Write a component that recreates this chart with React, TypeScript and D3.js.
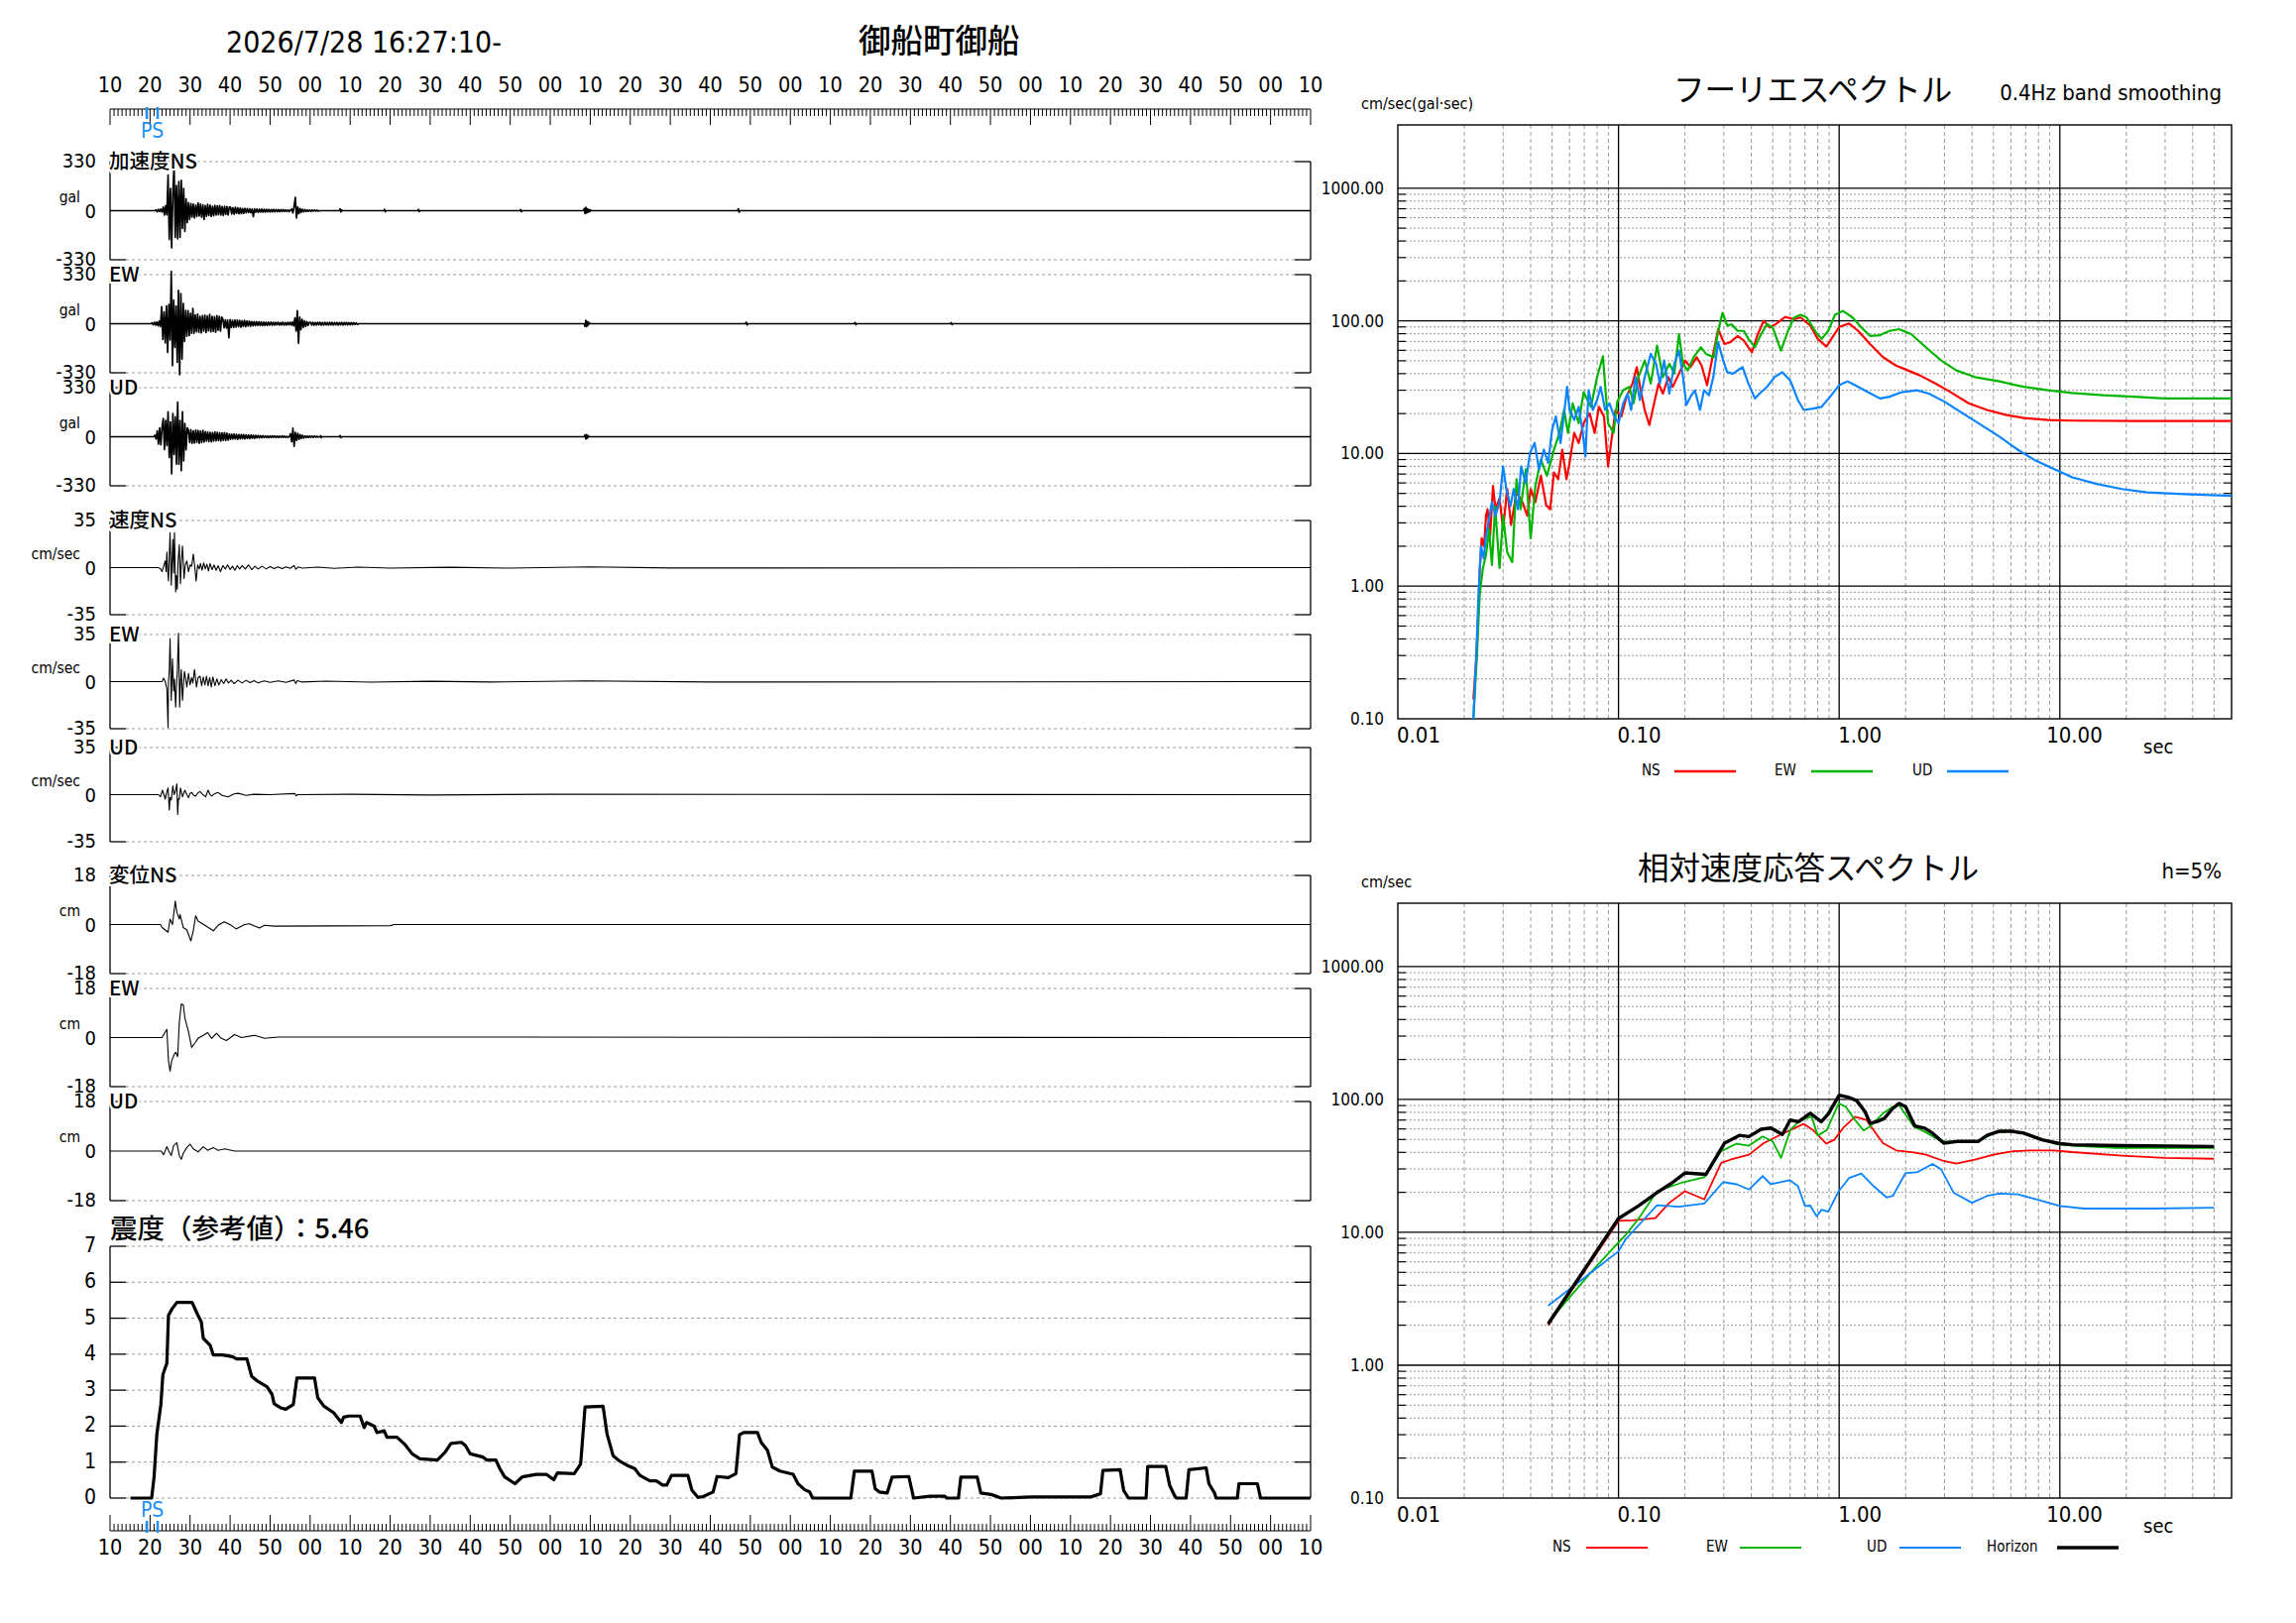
import React from 'react';
import * as d3 from 'd3';

const W = 2316;
const H = 1637;
const LATIN = "'DejaVu Sans Condensed', 'DejaVu Sans', sans-serif";
const CJK = "'Noto Sans CJK JP', 'Noto Sans CJK SC', sans-serif";
const PS_BLUE = '#1e8ff5';
const GRID = '#9a9a9a';

// ---- header ----
const headerDate = '2026/7/28 16:27:10-';
const stationName = '御船町御船';

// ---- time axis (seconds) ----
const timeStart = 10;
const timeEnd = 310;
const timeTicks = d3.range(10, 311, 10);
const pTime = 19.2;
const sTime = 21.9;

// ---- waveform panels ----
const panelNames = ['加速度NS', 'EW', 'UD', '速度NS', 'EW', 'UD', '変位NS', 'EW', 'UD'];
const panelMax = [330, 330, 330, 35, 35, 35, 18, 18, 18];
const panelUnits = ['gal', 'gal', 'gal', 'cm/sec', 'cm/sec', 'cm/sec', 'cm', 'cm', 'cm'];

// acceleration (gal): samples every 0.3 s from the start time, plus later small bursts
const accStep = 0.3;
const accNSStart = 21.5;
const accNS = [
  5, -8, 9, -6, 10, -9, 25, -30, 35, -28,
  240, -194, 150, -250, 120, 308, -180, 170, -190, 196, -180, 205, -120, 150, -140, 80, -80, 55, -60,
  48, -42, 45, -50, 38, -40, 52, -36, 44, -45, 40, -60, 35, -38, 42, -33, 38, -40, 30, -35, 36, -30, 33, -28, 35, -30, 28, -32, 30, -25, 27, -29, 24,
  25, -22, 20, -24, 22, -18, 20, -21, 18, -20, 15, -18, 16, -14, 15, -13, 12, -14, 11, -40,
  12, -10, 11, -12, 10, -9, 11, -9, 9, -10, 9, -8, 9, -9, 8, -8, 9, -7, 8, -7, 8, -7, 7, -6, 7, -6, 6, -6, 5, -6, 5,
  10, -15, 30, 89, -49, 25, -20, 15, -12, 10, -8, 7, -6,
  5, -4, 4, -5, 4, -3, 4, -3, 3, -3,
];
const accNSEvents: [number, number][] = [
  [62.3, 0], [67.3, 0], [67.5, 12], [67.7, -8], [67.9, 4], [68.1, 0], [78.4, 0], [78.6, 9], [78.8, -7], [79.0, 0],
  [86.9, 0], [87.1, 8], [87.3, -6], [87.5, 0], [112.4, 0], [112.6, 7], [112.8, -6], [113.0, 0],
  [128.3, 0], [128.5, 14], [128.7, -20], [128.9, 22], [129.1, -16], [129.3, 13], [129.5, -10], [129.7, 8], [129.9, -6], [130.1, 4], [130.3, 0],
  [166.8, 0], [167.0, 13], [167.2, -10], [167.4, 0],
];
const accEWStart = 20.5;
const accEW = [
  6, -8, 10, -9, 12, -15, 18, -20,
  114, -106, 80, -130, 120, -194, 130, -110, 352, -282, 160, -160, 120, -260, 224, -343, 202, -238, 136, -120, 90, -85, 88, -80, 70, -65, 103, -65,
  60, -55, 65, -58, 50, -62, 55, -50, 58, -60, 52, -48, 62, -55, 50, -52, 48, -58, 55, -45, 50, -50, 45,
  30, -28, 26, -30, 25, -95, 28, -24, 22, -26, 25, -22, 24, -20, 22, -24, 20, -18, 22, -20, 18, -16, 18, -17, 15, -14, 15, -13, 14, -12,
  13, -12, 12, -13, 11, -12, 10, -11, 10, -9, 11, -10, 9, -10, 9, -8, 10, -9, 8, -9, 10, -9, 8, -9, 9, -8, 10, -9, 12, -15,
  40, -50, 88, -132, 45, -40, 30, -25, 20, -18, 14, -12, 10,
  10, -9, 9, -10, 8, -9, 9, -8, 10, -10, 8, -9, 9, -8, 8, -9, 10, -8, 9, -9, 8, -8, 9, -10, 8, -8, 9, -9, 8, -7, 9, -8, 7, -8, 8, -7, 7, -6, 6, -6,
];
const accEWEvents: [number, number][] = [
  [72.1, 0], [128.5, 0], [128.7, -18], [128.9, 22], [129.1, -20], [129.3, 15], [129.5, -10], [129.7, 8], [129.9, 0],
  [168.8, 0], [169.0, 10], [169.2, -8], [169.4, 0], [196.0, 0], [196.2, 8], [196.4, -7], [196.6, 0],
  [220.0, 0], [220.2, 7], [220.4, -6], [220.6, 0],
];
const accUDStart = 21.2;
const accUD = [
  10, -15, 40, -50, 60, -55, 65,
  123, -86, 110, -60, 167, -140, 100, -250, 156, -120, 134, -185, 233, -185, 110, -229, 167, -163, 90, -88, 60,
  44, -40, 48, -44, 40, -42, 45, -38, 42, -44, 38, -40, 42, -36,
  35, -30, 33, -32, 30, -34, 28, -30, 32, -28, 30, -26, 28, -30, 26, -24, 28, -25, 24, -22,
  18, -17, 17, -16, 18, -15, 16, -17, 15, -14, 16, -13, 14, -15, 13, -12, 12, -13, 11, -10, 10, -11, 9, -8, 9, -8, 7, -7, 8, -6,
  6, -6, 5, -6, 5, -5, 6, -4, 5, -5, 4, -5, 4, -4, 5, -4, 4, -4, 3, -4, 3,
  20, -35, 57, -64, 30, -25, 22, -18, 15, -12, 10, -9,
  6, -6, 5, -5, 5, -4, 4, -4, 4, -3, 3, -3,
];
const accUDEvents: [number, number][] = [
  [62.3, 0], [62.5, 0], [62.6, 7], [62.8, -6], [63.0, 0], [67.3, 0], [67.5, 8], [67.7, -6], [67.9, 0],
  [128.5, 0], [128.7, 12], [128.9, -15], [129.1, 14], [129.3, -10], [129.5, 7], [129.7, 0],
];

// velocity (cm/sec) as [time, value]
const velNS: [number, number][] = [
  [22, 0], [22.6, -0.8], [23.0, -3], [23.4, 1], [23.8, 5], [24.0, -3], [24.2, 11.5], [24.4, -2], [24.6, -10], [24.8, 8],
  [25.0, 26], [25.3, -13], [25.5, 5], [25.7, 21], [25.9, -4], [26.1, 26], [26.4, -18], [26.6, -6], [26.8, -16], [27.0, 4],
  [27.3, 17], [27.6, -12], [27.8, 3], [28.1, 16], [28.5, -8], [28.8, 2], [29.2, 5], [29.6, -3], [30.0, 2], [30.4, 1],
  [30.8, 10], [31.2, 0], [31.5, -10], [31.9, 2], [32.3, -1], [32.6, 3], [33.0, -2], [33.4, 3.5], [33.8, -1], [34.2, 2.5],
  [34.6, -2.5], [35.0, 3], [35.5, -1.5], [36.0, 2], [36.5, -2], [37.0, 1.5], [37.6, -3], [38.2, 1.5], [38.8, -1], [39.4, 2],
  [40.0, -1.5], [40.6, 1], [41.2, -2], [41.8, 1.5], [42.4, -1], [43.0, 1.5], [43.8, -1], [44.6, 2], [45.4, -1.5], [46.2, 1],
  [47.0, -1], [48.0, 1], [49.0, -1], [50.0, 0.8], [51.0, -0.8], [52.0, 0.5], [53.0, -0.8], [54.0, 0.6], [55.0, -0.5], [56.0, 1.5],
  [56.4, -1.2], [57.0, 0.5], [58.0, -0.4], [62, 0.4], [66, -0.5], [72, 0.4], [80, -0.4], [95, 0.3], [110, -0.4], [130, 0.5], [150, -0.3],
];
const velEW: [number, number][] = [
  [23.0, 0], [23.4, 2.6], [23.8, 0], [24.2, -5], [24.5, -34], [24.6, 0], [24.8, 8], [25.0, 32], [25.3, -14], [25.6, 17],
  [25.9, -7], [26.1, 2], [26.4, -19], [26.6, -3], [26.8, 6], [27.1, 36], [27.4, -19], [27.6, 0], [27.8, 9], [28.1, -14],
  [28.4, 0], [28.6, 7.6], [29.2, -4], [29.6, 6], [30.0, -2.3], [30.4, 3], [30.7, -1], [31.1, 9], [31.6, -4], [32.0, 3],
  [32.5, 4], [32.9, -3], [33.3, 3.5], [33.7, -2.5], [34.1, 4], [34.5, -3], [34.9, 3], [35.3, -4], [35.7, 3.5], [36.2, -3],
  [36.7, 2], [37.2, -2.5], [37.8, 1.5], [38.4, -1.5], [39.0, 2], [39.6, -1], [40.3, 1], [41.0, -1.5], [42.0, 1], [43.0, -1],
  [44.0, 1], [45.0, -0.8], [46.0, 0.8], [47.0, -1], [48.5, 0.6], [50.0, -0.6], [52.0, 0.5], [54.0, -0.5], [56.0, 1.2], [56.4, -1.5],
  [56.8, 0.8], [58.0, -0.3], [64, 0.4], [75, -0.4], [90, 0.3], [105, -0.3], [129, 0.6], [160, -0.3],
];
const velUD: [number, number][] = [
  [22.1, 0], [22.6, -1.6], [23.1, 3.3], [23.8, -3.3], [24.1, 1], [24.5, 5], [24.8, -11.4], [25.0, -2], [25.3, -4], [25.7, 6.5],
  [26.0, 0], [26.3, 2], [26.7, 8], [26.9, -14.7], [27.1, -3], [27.3, -3.3], [27.6, 5], [28.1, -1.6], [28.7, 3.3], [29.2, 0],
  [29.6, -2.3], [30.0, 1], [30.4, 1.6], [30.9, -0.5], [31.4, -1], [32.0, 1.5], [32.5, 2.3], [33.2, 0], [33.9, -1.6], [34.5, 3.3],
  [35.0, 0], [35.4, -1], [36.2, 0.8], [37.0, 1.6], [38.0, -0.5], [39.5, -1.6], [41.0, 0.5], [42.0, 1], [44.0, -0.5], [46.0, 0.3],
  [50.0, 0], [56.2, 0.8], [56.5, -0.8], [57.0, 0], [70, 0.3], [90, -0.3], [120, 0.3],
];

// displacement (cm) as [time, value]
const dispNS: [number, number][] = [
  [22.6, 0], [23.0, -1.1], [24.5, -2.8], [25.0, 2], [25.6, 0], [26.3, 8.6], [26.7, 4.5], [27.3, 2], [27.5, 3.7], [28.3, -1.1],
  [29.2, -2], [30.2, -6], [30.8, -2.3], [31.4, 3.2], [32.0, 1.3], [33.7, -0.3], [35.8, -2.3], [37.0, -0.3], [38.5, 1], [40.3, -0.3],
  [41.5, -1.6], [43.6, 0], [44.8, 0.3], [47.3, -1.3], [48.6, -0.3], [51.0, -0.6], [80.0, -0.4], [81.0, 0],
];
const dispEW: [number, number][] = [
  [23.0, 0], [23.8, 2.1], [24.2, 3], [24.6, -8.5], [25.0, -12.3], [25.4, -8.5], [26.1, -6], [26.4, -5.4], [26.9, -7], [27.3, 5.4],
  [27.8, 12.3], [28.3, 12], [28.7, 7.2], [29.6, 2.1], [30.4, -3.6], [31.2, -2], [32.0, -0.3], [33.3, 0.8], [34.4, 1.8], [35.4, -0.3],
  [36.6, 1.6], [37.8, -0.3], [39.1, -1.1], [41.1, 1.1], [42.8, 0], [46.1, 0.8], [48.6, -0.3], [52.0, 0.2],
];
const dispUD: [number, number][] = [
  [22.8, 0], [23.4, -1.3], [24.2, 1.6], [24.6, 0.3], [25.3, -1.6], [25.9, 2], [26.7, 3], [27.3, -1.6], [27.8, -3], [28.3, -0.8],
  [29.2, 1.3], [30.0, 2.5], [30.8, 0.8], [32.0, -0.3], [33.3, 1.6], [34.4, 0.3], [35.8, 1.3], [37.0, 0.3], [38.7, 0.8], [41.1, 0],
];

// ---- seismic intensity (reference value) ----
const intensityLabel = '震度（参考値）：5.46';
const intensityTicks = [0, 1, 2, 3, 4, 5, 6, 7];
const intensity: [number, number][] = [
  [15.1, 0], [20.4, 0], [21.0, 0.59], [21.7, 1.78], [22.7, 2.6], [23.2, 3.43], [24.2, 3.75], [24.6, 5.08], [25.5, 5.26], [26.7, 5.44],
  [30.5, 5.44], [31.8, 5.12], [32.8, 4.9], [33.3, 4.44], [35, 4.25], [35.8, 3.98], [38.1, 3.98], [40.6, 3.93], [41.6, 3.87], [44.2, 3.87],
  [45.4, 3.38], [47, 3.24], [49.2, 3.1], [50.5, 2.88], [51, 2.62], [52.6, 2.51], [53.9, 2.47], [55.8, 2.6], [56.7, 3.34], [61.1, 3.34],
  [61.9, 2.79], [63.4, 2.56], [65.9, 2.37], [67.8, 2.1], [68.4, 2.25], [69.7, 2.28], [72.5, 2.28], [73.5, 1.96], [74.1, 2.1], [76, 2.0],
  [76.7, 1.82], [78.5, 1.87], [79.2, 1.69], [81.7, 1.69], [83.6, 1.5], [85.5, 1.23], [87.4, 1.09], [91.8, 1.06], [93.7, 1.27], [95.2, 1.52],
  [97.8, 1.55], [98.8, 1.46], [100, 1.23], [103.2, 1.14], [104.1, 1.06], [106.4, 1.06], [107.4, 0.82], [108.6, 0.59], [111.2, 0.4], [113, 0.59],
  [116.5, 0.66], [119, 0.66], [120.9, 0.51], [121.8, 0.7], [126, 0.68], [127.6, 0.95], [128.7, 2.53], [133.2, 2.55], [134.2, 1.78], [135.7, 1.18],
  [137.3, 1.03], [139.2, 0.91], [141.1, 0.82], [142.4, 0.63], [144.9, 0.48], [146.5, 0.48], [148.1, 0.36], [149.1, 0.36], [150.3, 0.63], [154.4, 0.63],
  [155.4, 0.22], [156.9, 0.02], [158.2, 0.04], [160.7, 0.17], [161.7, 0.6], [164.5, 0.57], [166.4, 0.68], [167.3, 1.76], [168.3, 1.82], [171.8, 1.82],
  [172.7, 1.55], [174.3, 1.32], [175.5, 0.86], [177.4, 0.75], [180.7, 0.66], [181.9, 0.4], [183.6, 0.23], [184.8, 0.17], [185.6, 0], [195.1, 0],
  [196.0, 0.75], [200.4, 0.75], [201.2, 0.26], [202.2, 0.17], [204.2, 0.14], [205.4, 0.58], [209.6, 0.6], [210.8, 0], [214.9, 0.05], [218.6, 0.05],
  [219.1, 0], [222, 0], [222.6, 0.58], [226.7, 0.58], [227.6, 0.14], [230.2, 0.1], [232.7, 0], [240.1, 0.03], [255, 0.03], [257.5, 0.12],
  [258.1, 0.77], [262.4, 0.79], [263.3, 0.21], [264.5, 0], [268.9, 0], [269.3, 0.88], [273.8, 0.88], [274.8, 0.35], [276, 0.07], [276.5, 0],
  [278.9, 0], [279.6, 0.79], [283.9, 0.84], [284.6, 0.4], [286, 0.14], [286.4, 0], [291.7, 0], [292.1, 0.4], [296.7, 0.4], [297.5, 0], [310, 0],
];

// ---- Fourier spectrum [period sec, cm/sec] ----
const fourierNS: [number, number][] = [
  [0.022, 0.14], [0.0227, 0.29], [0.0232, 0.69], [0.0235, 1.3], [0.024, 2.3], [0.0246, 2.0], [0.0251, 3.4], [0.0255, 3.8], [0.0262, 2.4], [0.027, 5.7],
  [0.0277, 3.8], [0.0289, 4.6], [0.03, 2.7], [0.0313, 5.4], [0.0326, 2.9], [0.0345, 5.1], [0.0367, 4.3], [0.0386, 3.4], [0.04, 5.4], [0.042, 4.3],
  [0.0445, 6.8], [0.047, 4.1], [0.049, 3.8], [0.051, 7.2], [0.0533, 6.4], [0.0556, 10.7], [0.0581, 6.4], [0.06, 8.5], [0.063, 14.3], [0.066, 12.0],
  [0.0695, 16.9], [0.074, 20.1], [0.078, 14.3], [0.0815, 22.5], [0.086, 19], [0.0897, 8.0], [0.093, 12.7], [0.097, 21.3], [0.103, 19], [0.1087, 26.8],
  [0.1158, 33.7], [0.121, 44.8], [0.126, 30], [0.1315, 21.3], [0.138, 16.4], [0.145, 23.9], [0.152, 33.7], [0.159, 28.3], [0.168, 37.7], [0.176, 31.8],
  [0.188, 40], [0.2, 50.3], [0.212, 44.8], [0.226, 53.2], [0.238, 46], [0.252, 32.7], [0.265, 50.3], [0.283, 86.6], [0.302, 66.9], [0.321, 69],
  [0.347, 77], [0.37, 70.9], [0.402, 57.8], [0.428, 79.5], [0.455, 100], [0.485, 89.2], [0.516, 94.5], [0.57, 107], [0.625, 103], [0.669, 106],
  [0.74, 92], [0.8, 73], [0.875, 64], [0.94, 77], [1.0, 90], [1.11, 95.5], [1.22, 84], [1.38, 66.9], [1.58, 53.2], [1.81, 46],
  [2.05, 42.3], [2.32, 38.8], [2.73, 33.7], [3.19, 29.1], [3.86, 23.9], [4.68, 21.3], [5.67, 19.6], [6.86, 18.5], [8.86, 17.9], [11.4, 17.7],
  [21.6, 17.6], [60, 17.6],
];
const fourierEW: [number, number][] = [
  [0.022, 0.1], [0.0228, 0.29], [0.0235, 0.86], [0.0243, 1.37], [0.0251, 1.72], [0.0259, 2.7], [0.0267, 1.44], [0.0276, 4.0], [0.0289, 1.37], [0.03, 3.4],
  [0.0313, 1.8], [0.033, 1.52], [0.0345, 6.4], [0.036, 3.8], [0.038, 7.6], [0.04, 2.3], [0.042, 5.7], [0.0445, 9.0], [0.0474, 6.8], [0.051, 10.7],
  [0.054, 14.3], [0.0567, 21.3], [0.059, 14.3], [0.062, 23.9], [0.066, 16.9], [0.0695, 29], [0.075, 22.5], [0.08, 37.7], [0.085, 54], [0.0897, 16.9],
  [0.095, 14.3], [0.0987, 24.5], [0.105, 30], [0.112, 31.8], [0.117, 23.9], [0.123, 37.7], [0.1315, 50.3], [0.14, 33.7], [0.1495, 65], [0.159, 37.7],
  [0.17, 47.4], [0.179, 40], [0.188, 79.5], [0.196, 47.4], [0.206, 42.3], [0.219, 53.2], [0.236, 63.2], [0.249, 56.4], [0.27, 53.2], [0.283, 84],
  [0.296, 115], [0.311, 92], [0.325, 94.5], [0.347, 84], [0.37, 84], [0.388, 73], [0.415, 63.2], [0.443, 79.5], [0.471, 94.5], [0.5, 89.2],
  [0.545, 59.7], [0.586, 84], [0.625, 106], [0.669, 111], [0.712, 106], [0.785, 82], [0.833, 73], [0.892, 84], [0.957, 111], [1.04, 118.8],
  [1.15, 106], [1.26, 89.2], [1.38, 77], [1.53, 78], [1.69, 84], [1.87, 86.6], [2.12, 79.5], [2.47, 63.2], [2.9, 50.3], [3.4, 42.3],
  [4.12, 37.7], [5.32, 35], [6.86, 31.8], [8.86, 30], [11.4, 28.6], [15.7, 27.5], [21.6, 26.8], [29.8, 26], [60, 26],
];
const fourierUD: [number, number][] = [
  [0.022, 0.1], [0.0224, 0.19], [0.0228, 0.39], [0.0232, 0.86], [0.0238, 2.0], [0.0245, 1.62], [0.0251, 2.4], [0.0259, 3.2], [0.0267, 4.3], [0.0277, 3.4],
  [0.0289, 4.3], [0.03, 8.0], [0.031, 5.4], [0.0324, 4.0], [0.0335, 5.4], [0.035, 3.8], [0.0362, 8.0], [0.038, 6.0], [0.0397, 10.1], [0.0417, 12],
  [0.0436, 7.6], [0.0459, 10.7], [0.048, 8.5], [0.05, 15.1], [0.052, 19], [0.0546, 12], [0.0567, 20.1], [0.0585, 31.8], [0.06, 21.3], [0.063, 17.9],
  [0.066, 22.5], [0.0686, 15.1], [0.0708, 9.5], [0.0732, 30], [0.0765, 21.3], [0.08, 25.3], [0.083, 31.8], [0.087, 21.3], [0.091, 23.9], [0.0957, 19],
  [0.1, 16.9], [0.105, 23.9], [0.11, 28.3], [0.114, 21.3], [0.1195, 37.7], [0.125, 25.3], [0.1315, 37.7], [0.14, 56.4], [0.148, 47.4], [0.154, 33.7],
  [0.161, 50.3], [0.17, 28.3], [0.179, 47.4], [0.188, 59.7], [0.196, 37.7], [0.203, 23.2], [0.212, 26.8], [0.222, 30], [0.234, 21.3], [0.244, 30],
  [0.257, 27.5], [0.269, 37.7], [0.283, 69], [0.298, 50.3], [0.311, 41], [0.33, 40], [0.365, 44.8], [0.388, 33.7], [0.415, 26], [0.443, 29],
  [0.471, 31.8], [0.51, 37.7], [0.553, 41], [0.6, 35.6], [0.65, 25.3], [0.691, 21.3], [0.76, 21.8], [0.833, 22.5], [0.91, 26.8], [1.0, 32.7],
  [1.09, 35], [1.18, 32.7], [1.35, 29], [1.53, 26], [1.69, 26.8], [1.92, 29], [2.25, 30], [2.55, 28.3], [3.0, 24.6], [3.63, 20.1],
  [4.4, 16.4], [5.32, 13.4], [6.44, 10.7], [7.8, 8.8], [9.45, 7.6], [11.4, 6.6], [14.7, 5.9], [19.1, 5.4], [24.9, 5.1], [36.5, 4.95], [60, 4.8],
];

// ---- relative velocity response spectrum h=5% [period sec, cm/sec] ----
const respNS: [number, number][] = [
  [0.048, 2.0], [0.1, 12.2], [0.116, 12.3], [0.147, 12.8], [0.17, 16.7], [0.2, 20.4], [0.245, 17.7], [0.292, 33.3], [0.321, 35.2], [0.39, 38.4],
  [0.455, 46.9], [0.545, 54.5], [0.69, 65.5], [0.76, 59], [0.875, 46.5], [0.95, 49.7], [1.04, 60.8], [1.18, 74.2], [1.33, 70.1], [1.43, 59],
  [1.58, 46.9], [1.81, 41.4], [2.18, 40], [2.47, 38.4], [3.0, 34.3], [3.4, 32.9], [4.12, 35.2], [5.0, 38.4], [6.04, 40.7], [7.3, 41.4],
  [9.45, 41.4], [11.4, 40.2], [19.1, 37.8], [29.8, 36.3], [50, 35.8],
];
const respEW: [number, number][] = [
  [0.048, 2.1], [0.075, 5.0], [0.1, 8.4], [0.108, 9.6], [0.123, 12.6], [0.1495, 20.4], [0.193, 23.6], [0.245, 26], [0.292, 40.8], [0.343, 46.5],
  [0.39, 44.9], [0.45, 52.6], [0.5, 48.3], [0.545, 36.3], [0.6, 59], [0.669, 70], [0.75, 74.2], [0.8, 53.5], [0.88, 59], [0.995, 93.4],
  [1.07, 88.2], [1.18, 70.1], [1.29, 58.4], [1.38, 62.5], [1.58, 78.6], [1.75, 88.2], [1.87, 90.7], [2.18, 62.5], [2.44, 57.3], [2.9, 48.3],
  [3.4, 48.3], [4.26, 48.3], [5.0, 55.8], [6.04, 57.7], [7.3, 54.2], [9.45, 46.5], [11.4, 44.9], [17.9, 43.1], [28, 43.1], [50, 43.1],
];
const respUD: [number, number][] = [
  [0.048, 2.8], [0.1, 7.2], [0.108, 8.9], [0.1495, 16], [0.188, 15.6], [0.245, 16.5], [0.298, 23.9], [0.343, 23], [0.39, 21], [0.45, 26.5],
  [0.49, 23], [0.597, 24.7], [0.65, 22.3], [0.7, 15.8], [0.74, 15.9], [0.79, 13.2], [0.833, 14.8], [0.892, 14.3], [0.995, 20.4], [1.11, 25.7],
  [1.26, 27.7], [1.43, 22.3], [1.64, 18.3], [1.75, 18.8], [2.0, 28], [2.25, 28.3], [2.65, 32.7], [2.9, 29.7], [3.3, 19.9], [4.0, 16.7],
  [4.68, 18.8], [5.32, 19.6], [6.44, 19.3], [7.8, 17.7], [10, 15.8], [12.9, 15.1], [26.2, 15.1], [50, 15.3],
];
const respHorizon: [number, number][] = [
  [0.048, 2.05], [0.1, 12.7], [0.123, 15.8], [0.1495, 19.9], [0.175, 23.6], [0.2, 28], [0.249, 27.3], [0.302, 46.9], [0.353, 53.7], [0.39, 52.6],
  [0.443, 59.7], [0.49, 61], [0.553, 54.5], [0.6, 70], [0.654, 68], [0.74, 78.6], [0.83, 68], [0.892, 77.6], [1.0, 107.7], [1.11, 103.5],
  [1.2, 98], [1.31, 81], [1.38, 66.2], [1.48, 68], [1.6, 72], [1.75, 85.6], [1.87, 93.4], [2.0, 88.2], [2.2, 63.3], [2.44, 60.8],
  [2.65, 55.8], [2.98, 46.9], [3.4, 48.3], [4.26, 48.3], [4.68, 53.7], [5.32, 57.7], [6.04, 57.7], [6.86, 55.8], [8.3, 49.7], [10, 46.5],
  [11.4, 45.6], [19.1, 44.9], [50, 44.3],
];

const periodDomain = [0.01, 60];
const specDomain = [0.1, 3000];
const periodMajor = [0.1, 1, 10];
const periodLabels = ['0.01', '0.10', '1.00', '10.00'];
const periodLabelAt = [0.01, 0.1, 1, 10];
const specMajor = [1, 10, 100, 1000];
const specLabels = ['1000.00', '100.00', '10.00', '1.00', '0.10'];
const specLabelAt = [1000, 100, 10, 1, 0.1];

// ---------- layout ----------
const X0 = 111;
const X1 = 1322;
const STUB = 16;
const panelTops = [163, 277, 391, 525, 640, 754, 883, 997, 1111];
const panelHeights = [99, 99, 99, 95, 95, 95, 99, 99, 100];

const tScale = d3.scaleLinear().domain([timeStart, timeEnd]).range([X0, X1]);
const fmtTime = (t: number) => String(t % 60).padStart(2, '0');

const sampled = (start: number, vals: number[], events: [number, number][]): [number, number][] => {
  const pts: [number, number][] = [[timeStart, 0], [start - accStep, 0]];
  vals.forEach((v, i) => pts.push([start + i * accStep, v]));
  events.forEach((e) => pts.push(e));
  pts.push([timeEnd, 0]);
  return pts;
};
const padded = (pts: [number, number][]): [number, number][] => [[timeStart, 0], ...pts, [timeEnd, 0]];

const traces = [
  sampled(accNSStart, accNS, accNSEvents),
  sampled(accEWStart, accEW, accEWEvents),
  sampled(accUDStart, accUD, accUDEvents),
  padded(velNS), padded(velEW), padded(velUD),
  padded(dispNS), padded(dispEW), padded(dispUD),
];

const HLine = ({ y }: { y: number }) => (
  <g>
    <line x1={X0} x2={X0 + STUB} y1={y} y2={y} stroke="#000" strokeWidth={1.3} />
    <line x1={X0 + STUB} x2={X1 - STUB} y1={y} y2={y} stroke={GRID} strokeWidth={1} strokeDasharray="3,3" />
    <line x1={X1 - STUB} x2={X1} y1={y} y2={y} stroke="#000" strokeWidth={1.3} />
  </g>
);

const WavePanel = ({ i }: { i: number }) => {
  const top = panelTops[i];
  const bottom = top + panelHeights[i];
  const max = panelMax[i];
  const y = d3.scaleLinear().domain([-max, max]).range([bottom, top]);
  const line = d3.line<[number, number]>().x((d) => tScale(d[0])).y((d) => y(d[1]));
  const zero = y(0);
  return (
    <g>
      <HLine y={top} />
      <HLine y={bottom} />
      <line x1={X0} x2={X0} y1={top} y2={bottom} stroke="#000" strokeWidth={1.3} />
      <line x1={X1} x2={X1} y1={top} y2={bottom} stroke="#000" strokeWidth={1.3} />
      <path d={line(traces[i]) || ''} fill="none" stroke="#000" strokeWidth={i < 3 ? 1.7 : 1.1} strokeLinejoin="round" />
      <g fontFamily={LATIN} fontStretch="condensed" fontSize={20} textAnchor="end" fill="#000">
        <text x={97} y={top - 1} dominantBaseline="central">{max}</text>
        <text x={97} y={zero} dominantBaseline="central">0</text>
        <text x={97} y={bottom - 1} dominantBaseline="central">{-max}</text>
      </g>
      <text x={81} y={zero - 9} fontFamily={LATIN} fontStretch="condensed" fontSize={15.5} textAnchor="end" fill="#000">
        {panelUnits[i]}
      </text>
      <text x={X0 - 1} y={top + 7} fontFamily={CJK} fontSize={20.5} fontWeight={500} fill="#000" stroke="#fff" strokeWidth={4} paintOrder="stroke">
        {panelNames[i]}
      </text>
    </g>
  );
};

const TimeRuler = ({ y, dir, labelY, psTextY }: { y: number; dir: 1 | -1; labelY: number; psTextY: number }) => {
  const minor = d3.range(timeStart, timeEnd + 1, 1);
  return (
    <g>
      <line x1={X0} x2={X1} y1={y} y2={y} stroke="#000" strokeWidth={1.2} />
      {minor.map((t) => (
        <line key={t} x1={tScale(t)} x2={tScale(t)} y1={y} y2={y + dir * (t % 10 === 0 ? 16 : 7)} stroke="#000" strokeWidth={1} />
      ))}
      {timeTicks.map((t) => (
        <text key={t} x={tScale(t)} y={labelY} fontFamily={LATIN} fontStretch="condensed" fontSize={21.5} textAnchor="middle" dominantBaseline="central" fill="#000">
          {fmtTime(t)}
        </text>
      ))}
      {[pTime, sTime].map((t) => (
        <line key={t} x1={tScale(t)} x2={tScale(t)} y1={y - dir * 2} y2={y + dir * 10} stroke={PS_BLUE} strokeWidth={2.5} />
      ))}
      <text x={(tScale(pTime) + tScale(sTime)) / 2} y={psTextY} fontFamily={LATIN} fontStretch="condensed" fontSize={21} textAnchor="middle" dominantBaseline="central" fill={PS_BLUE}>
        PS
      </text>
    </g>
  );
};

const IntensityPanel = () => {
  const y = d3.scaleLinear().domain([0, 7]).range([1511, 1257]);
  const line = d3.line<[number, number]>().x((d) => tScale(d[0])).y((d) => y(d[1]));
  return (
    <g>
      {intensityTicks.map((v) => (
        <g key={v}>
          <HLine y={y(v)} />
          <text x={97} y={y(v) - 1} fontFamily={LATIN} fontStretch="condensed" fontSize={21} textAnchor="end" dominantBaseline="central">{v}</text>
        </g>
      ))}
      <line x1={X0} x2={X0} y1={y(7)} y2={y(0)} stroke="#000" strokeWidth={1.3} />
      <line x1={X1} x2={X1} y1={y(7)} y2={y(0)} stroke="#000" strokeWidth={1.3} />
      <path d={line(intensity) || ''} fill="none" stroke="#000" strokeWidth={3.2} strokeLinejoin="round" />
      <text x={X0} y={1249} fontFamily={CJK} fontSize={27.5} fontWeight={500} fill="#000">{intensityLabel}</text>
    </g>
  );
};

type Series = { data: [number, number][]; color: string; width: number };

const LogChart = ({ top, bottom, series, title, titleX, note, unit, legend, legendY }: {
  top: number; bottom: number; series: Series[]; title: string; titleX: number; note: string; unit: string;
  legend: { label: string; tx: number; lx: number; color: string; width: number }[]; legendY: number;
}) => {
  const left = 1410;
  const right = 2251;
  const x = d3.scaleLog().domain(periodDomain).range([left, right]);
  const y = d3.scaleLog().domain(specDomain).range([bottom, top]);
  const line = d3.line<[number, number]>().x((d) => x(d[0])).y((d) => y(d[1]));
  const minorX: number[] = [];
  [0.01, 0.1, 1, 10].forEach((d) => d3.range(2, 10).forEach((k) => { const v = d * k; if (v < 60) minorX.push(v); }));
  const minorY: number[] = [];
  [0.1, 1, 10, 100].forEach((d) => d3.range(2, 10).forEach((k) => minorY.push(d * k)));
  return (
    <g>
      {minorX.map((v) => (
        <line key={'mx' + v} x1={x(v)} x2={x(v)} y1={top} y2={bottom} stroke={GRID} strokeWidth={1} strokeDasharray="4,3" />
      ))}
      {minorY.map((v) => (
        <g key={'my' + v}>
          <line x1={left + 8} x2={right - 8} y1={y(v)} y2={y(v)} stroke={GRID} strokeWidth={1} strokeDasharray="2,2" />
          <line x1={left} x2={left + 8} y1={y(v)} y2={y(v)} stroke="#000" strokeWidth={1.2} />
          <line x1={right - 8} x2={right} y1={y(v)} y2={y(v)} stroke="#000" strokeWidth={1.2} />
        </g>
      ))}
      {periodMajor.map((v) => (
        <line key={'Mx' + v} x1={x(v)} x2={x(v)} y1={top} y2={bottom} stroke="#000" strokeWidth={1.3} />
      ))}
      {specMajor.map((v) => (
        <line key={'My' + v} x1={left} x2={right} y1={y(v)} y2={y(v)} stroke="#000" strokeWidth={1.3} />
      ))}
      <rect x={left} y={top} width={right - left} height={bottom - top} fill="none" stroke="#000" strokeWidth={1.4} />
      {series.map((s, i) => (
        <path key={i} d={line(s.data) || ''} fill="none" stroke={s.color} strokeWidth={s.width} strokeLinejoin="round" />
      ))}
      <g fontFamily={LATIN} fontStretch="condensed" fill="#000">
        {specLabelAt.map((v, i) => (
          <text key={v} x={1396} y={y(v)} fontSize={17} textAnchor="end" dominantBaseline="central">{specLabels[i]}</text>
        ))}
        {periodLabelAt.map((v, i) => (
          <text key={v} x={x(v) + 43} y={bottom + 24} fontSize={22} textAnchor="end">{periodLabels[i]}</text>
        ))}
        <text x={2162} y={bottom + 35} fontSize={20}>sec</text>
        <text x={1373} y={top - 16} fontSize={16}>{unit}</text>
        <text x={2241} y={top - 25} fontSize={22} textAnchor="end">{note}</text>
        {legend.map((l) => (
          <g key={l.label}>
            <text x={l.tx} y={legendY} fontSize={15} dominantBaseline="central">{l.label}</text>
            <line x1={l.lx} x2={l.lx + 62} y1={legendY + 1} y2={legendY + 1} stroke={l.color} strokeWidth={l.width} />
          </g>
        ))}
      </g>
      <text x={titleX} y={top - 24} fontFamily={CJK} fontSize={31.5} fill="#000">{title}</text>
    </g>
  );
};

const RED = '#ff0000';
const GREEN = '#00b400';
const BLUE = '#0a84ff';

export default function App() {
  return (
    <svg width={W} height={H} viewBox={`0 0 ${W} ${H}`} style={{ position: 'absolute', left: 0, top: 0, background: '#fff' }}>
      <rect width={W} height={H} fill="#fff" />
      <text x={228} y={53} fontFamily={LATIN} fontStretch="condensed" fontSize={30} fill="#000">{headerDate}</text>
      <text x={866} y={53} fontFamily={CJK} fontSize={32.5} fontWeight={500} fill="#000">{stationName}</text>

      <TimeRuler y={110} dir={1} labelY={85} psTextY={132} />
      {panelNames.map((_, i) => <WavePanel key={i} i={i} />)}
      <IntensityPanel />
      <TimeRuler y={1544} dir={-1} labelY={1560} psTextY={1523} />

      <LogChart
        top={126}
        bottom={725}
        series={[
          { data: fourierNS, color: RED, width: 2.2 },
          { data: fourierEW, color: GREEN, width: 2.2 },
          { data: fourierUD, color: BLUE, width: 2.2 },
        ]}
        title="フーリエスペクトル"
        titleX={1688}
        note="0.4Hz band smoothing"
        unit="cm/sec(gal·sec)"
        legend={[
          { label: 'NS', tx: 1656, lx: 1689, color: RED, width: 2.5 },
          { label: 'EW', tx: 1790, lx: 1827, color: GREEN, width: 2.5 },
          { label: 'UD', tx: 1929, lx: 1964, color: BLUE, width: 2.5 },
        ]}
        legendY={777}
      />
      <LogChart
        top={911}
        bottom={1511}
        series={[
          { data: respNS, color: RED, width: 1.8 },
          { data: respEW, color: GREEN, width: 1.8 },
          { data: respUD, color: BLUE, width: 1.8 },
          { data: respHorizon, color: '#000', width: 3.4 },
        ]}
        title="相対速度応答スペクトル"
        titleX={1652}
        note="h=5%"
        unit="cm/sec"
        legend={[
          { label: 'NS', tx: 1566, lx: 1600, color: RED, width: 2 },
          { label: 'EW', tx: 1721, lx: 1755, color: GREEN, width: 2 },
          { label: 'UD', tx: 1883, lx: 1916, color: BLUE, width: 2 },
          { label: 'Horizon', tx: 2004, lx: 2075, color: '#000', width: 3.4 },
        ]}
        legendY={1560}
      />
    </svg>
  );
}
